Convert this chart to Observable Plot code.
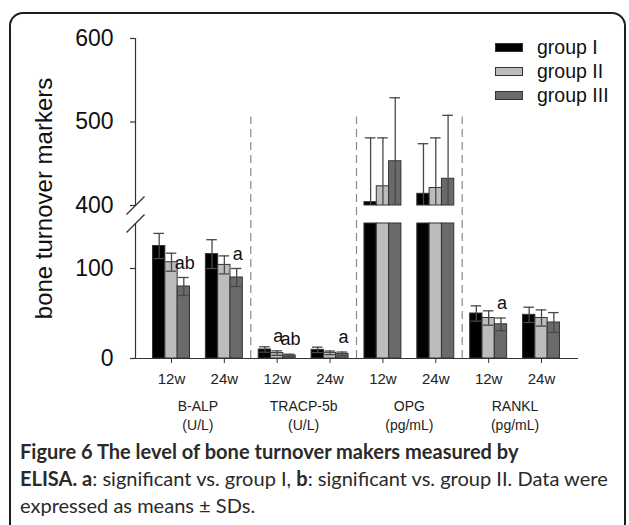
<!DOCTYPE html>
<html>
<head>
<meta charset="utf-8">
<script src="https://cdn.jsdelivr.net/npm/d3@7"></script>
<script src="https://cdn.jsdelivr.net/npm/@observablehq/plot@0.6"></script>
<style>
  html, body { margin: 0; padding: 0; background: #fff; overflow: hidden; width: 629px; height: 525px; }
  #frame { position: absolute; left: 9px; top: 12px; width: 617px; height: 600px; box-sizing: border-box;
           border: 2px solid #1e1e1e; border-radius: 14px; }
  #chart { position: absolute; left: 0; top: 0; }
  #legend { position: absolute; left: 495px; top: 35px; font-family: "Liberation Sans", Arial, sans-serif; font-size: 19.5px; color: #111; }
  #legend .row { display: flex; align-items: center; height: 24px; }
  #legend .sw { width: 28px; height: 9px; box-sizing: border-box; border: 1px solid #333; margin-right: 14px; }
  #caption { position: absolute; left: 20px; top: 438px; font-family: Lato, "Noto Sans", sans-serif; color: #2a2a2a; font-size: 18px; line-height: 27px; white-space: nowrap; }
  #caption .ln { display: block; }
  #caption span.w { display: inline-block; }
</style>
</head>
<body>
<div id="frame"></div>
<div id="chart"></div>
<div id="legend"></div>
<div id="caption">
  <div class="ln"><span class="w" id="l1"><b>Figure 6 The level of bone turnover makers measured by</b></span></div>
  <div class="ln"><span class="w" id="l2"><b>ELISA. a</b>: significant vs. group I, <b>b</b>: significant vs. group II. Data were</span></div>
  <div class="ln"><span class="w" id="l3">expressed as means ± SDs.</span></div>
</div>
<script>
// ---------------- data ----------------
const markers = ["B-ALP", "TRACP-5b", "OPG", "RANKL"];
const units = ["(U/L)", "(U/L)", "(pg/mL)", "(pg/mL)"];
const weeks = ["12w", "24w"];
const groups = ["group I", "group II", "group III"];
const colors = ["#000000", "#bcbcbc", "#6a6a6a"];
// clusters: B-ALP 12w, B-ALP 24w, TRACP 12w, TRACP 24w, OPG 12w, OPG 24w, RANKL 12w, RANKL 24w
const groupI   = [125, 116, 10, 9.6, 404, 414, 50, 48.5];
const groupII  = [107, 104, 6, 6.3, 423, 421, 45, 45];
const groupIII = [80, 90, 3.3, 5.2, 453, 432, 38, 40];
const sdI   = [14, 16, 3, 3, 77, 60, 8.5, 8.5];
const sdII  = [10, 10, 2.5, 2, 58, 60, 8, 9];
const sdIII = [10, 10, 1.5, 2, 76, 76, 7, 11];
const sigCluster = [0, 1, 2, 2, 3, 6];
const sigGroup   = [2, 2, 1, 2, 2, 2];
const sigText    = ["ab", "a", "a", "ab", "a", "a"];
const yTicks = [0, 100, 400, 500, 600];
const yLabel = "bone turnover markers";

// ---------------- layout constants ----------------
const breakLow = 150, breakHigh = 400, yMax = 600;
// broken-axis scale transform: pixel share of each segment
const lowPx = 135, gapPx = 18, highPx = 167;
const brokenAxis = v => v <= breakLow ? v * lowPx / breakLow
  : v < breakHigh ? lowPx + (v - breakLow) * gapPx / (breakHigh - breakLow)
  : lowPx + gapPx + (v - breakHigh) * highPx / (yMax - breakHigh);
const barW = 0.233;          // bar width in cluster units
const capW = 0.1;            // half-width of error caps
const tickLen = 0.095;       // y tick length in cluster units (~5px)
const xDomain = [-0.681, 7.70];
const sepTop = 506;

// ---------------- derived table ----------------
const means = [groupI, groupII, groupIII];
const sds = [sdI, sdII, sdIII];
const bars = [];
means.forEach((arr, g) => arr.forEach((v, c) => {
  const xc = c + (g - 1) * barW;
  bars.push({cluster: c, group: groups[g], g, v, sd: sds[g][c], xc, x1: xc - barW / 2, x2: xc + barW / 2});
}));
const lowBars = bars.map(d => ({...d, top: Math.min(d.v, breakLow)}));
const highBars = bars.filter(d => d.v > breakHigh);
const errs = bars.map(d => {
  const hi = d.v + d.sd;
  const lo = d.v > breakHigh ? Math.max(d.v - d.sd, breakHigh) : d.v - d.sd;
  return {...d, hi, lo, lowCap: !(d.v > breakHigh && d.v - d.sd < breakHigh)};
});
const sigs = sigText.map((t, i) => {
  const b = bars.find(d => d.cluster === sigCluster[i] && d.g === sigGroup[i]);
  return {text: t, x: b.xc, y: b.v + b.sd};
});
const catLabels = markers.map((m, i) => ({x: 2 * i + 0.5, text: m + "\n" + units[i]}));
const seps = [1.5, 3.5, 5.5];
const slashSymbol = {
  draw(ctx, size) {
    const r = Math.sqrt(size / Math.PI);
    ctx.moveTo(-r, r);
    ctx.lineTo(r, -r);
  }
};
const x0 = xDomain[0];

const chart = Plot.plot({
  width: 629,
  height: 435,
  marginLeft: 135,
  marginRight: 51,
  marginTop: 38,
  marginBottom: 77,
  style: {fontFamily: "'Liberation Sans', Arial, sans-serif", background: "transparent", color: "#222"},
  x: {domain: xDomain, axis: null},
  y: {transform: brokenAxis, domain: [0, brokenAxis(yMax)], axis: null},
  marks: [
    // dashed separators
    Plot.ruleX(seps, {x: d => d, y1: 0, y2: sepTop, stroke: "#8a8a8a", strokeWidth: 1.2, strokeDasharray: "8,5"}),
    // bars (lower segment)
    Plot.rectY(lowBars, {x1: "x1", x2: "x2", y1: 0, y2: "top", fill: d => colors[d.g], stroke: "#333", strokeWidth: 1}),
    // bars (upper segment)
    Plot.rectY(highBars, {x1: "x1", x2: "x2", y1: breakHigh, y2: "v", fill: d => colors[d.g], stroke: "#333", strokeWidth: 1}),
    // error bars
    Plot.ruleX(errs, {x: "xc", y1: "lo", y2: "hi", stroke: "#484848", strokeWidth: 1.3}),
    Plot.ruleY(errs, {y: "hi", x1: d => d.xc - capW, x2: d => d.xc + capW, stroke: "#484848", strokeWidth: 1.3}),
    Plot.ruleY(errs.filter(d => d.lowCap), {y: "lo", x1: d => d.xc - capW, x2: d => d.xc + capW, stroke: "#484848", strokeWidth: 1.3}),
    // significance letters
    Plot.text(sigs, {x: "x", y: "y", text: "text", dy: -9, dx: 1, lineAnchor: "bottom", fontSize: 18, fill: "#111"}),
    // x axis baseline
    Plot.ruleY([0], {stroke: "#333", strokeWidth: 1.2}),
    // broken y axis line
    Plot.ruleX([{y1: 0, y2: breakLow}, {y1: breakHigh, y2: yMax}], {x: () => x0, y1: "y1", y2: "y2", stroke: "#333", strokeWidth: 1.2}),
    Plot.dot([breakLow, breakHigh], {x: () => x0, y: d => d, r: 9, symbol: slashSymbol, stroke: "#333", strokeWidth: 1.2, fill: "none"}),
    // y ticks and labels
    Plot.ruleY(yTicks, {y: d => d, x1: () => x0 - tickLen, x2: () => x0, stroke: "#333", strokeWidth: 1.2}),
    Plot.text(yTicks, {y: d => d, x: () => x0, text: d => String(d), textAnchor: "end", dx: -22, fontSize: 23, fill: "#111"}),
    // x axis
    Plot.axisX({ticks: d3.range(8), tickFormat: i => weeks[i % 2], tickSize: 5, tickPadding: 10, fontSize: 15, label: null, stroke: "#333"}),
    Plot.text(catLabels, {x: "x", text: "text", frameAnchor: "bottom", dy: 40, lineAnchor: "top", fontSize: 14, lineHeight: 1.3, fill: "#222"}),
    Plot.text([yLabel], {frameAnchor: "left", dx: -91, rotate: -90, textAnchor: "middle", fontSize: 24, fill: "#111"})
  ]
});
document.getElementById("chart").appendChild(chart);

// legend
const legend = document.getElementById("legend");
groups.forEach((g, i) => {
  const row = document.createElement("div");
  row.className = "row";
  const sw = document.createElement("div");
  sw.className = "sw";
  sw.style.background = colors[i];
  const t = document.createElement("span");
  t.textContent = g;
  row.appendChild(sw);
  row.appendChild(t);
  legend.appendChild(row);
});

// fit caption font size so line 2 spans target width
const l2 = document.getElementById("l2");
const target = 588;
const w = l2.getBoundingClientRect().width;
const cap = document.getElementById("caption");
cap.style.fontSize = (18 * target / w).toFixed(2) + "px";
</script>
</body>
</html>
